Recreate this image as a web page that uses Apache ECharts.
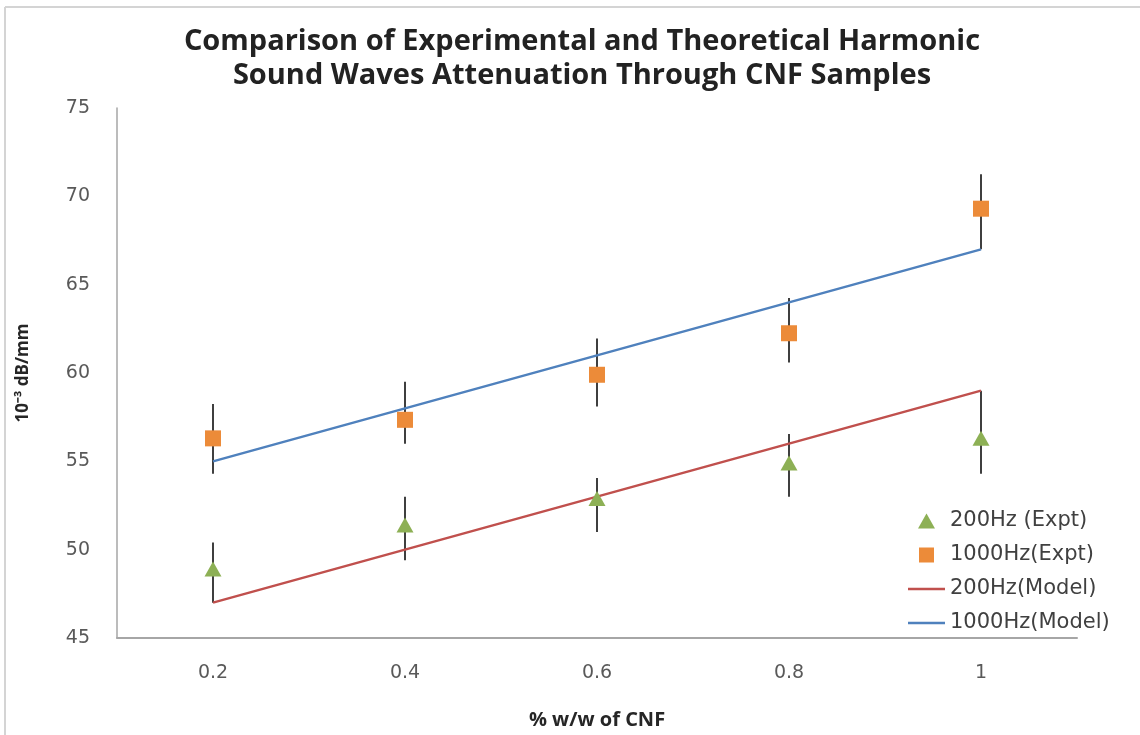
<!DOCTYPE html>
<html>
<head>
<meta charset="utf-8">
<title>CNF attenuation</title>
<script src="https://cdn.jsdelivr.net/npm/echarts@6/dist/echarts.min.js"></script>
<style>
  html, body { margin: 0; padding: 0; background: #ffffff; }
  #chart { width: 1140px; height: 735px; }
</style>
</head>
<body>
<div id="chart"></div>
<script>
// CNF loading (% w/w)
const categories = ['0.2', '0.4', '0.6', '0.8', '1'];

// Measured attenuation (10^-3 dB/mm) with error-bar limits
const expt200 = [48.9, 51.4, 52.9, 54.9, 56.3];
const expt200Low = [47.0, 49.4, 51.0, 53.0, 54.3];
const expt200High = [50.4, 53.0, 54.05, 56.55, 59.0];

const expt1000 = [56.3, 57.35, 59.9, 62.25, 69.3];
const expt1000Low = [54.3, 56.0, 58.1, 60.6, 67.0];
const expt1000High = [58.25, 59.5, 61.95, 64.25, 71.25];

// Model predictions
const model200 = [47, 50, 53, 56, 59];
const model1000 = [55, 58, 61, 64, 67];

// Y axis ticks
const yMin = 45, yMax = 75, yStep = 5;

const names = ['200Hz (Expt)', '1000Hz(Expt)', '200Hz(Model)', '1000Hz(Model)'];

const barRows = [];
categories.forEach((c, i) => {
  barRows.push([i, expt200Low[i], expt200High[i]]);
  barRows.push([i, expt1000Low[i], expt1000High[i]]);
});

// legend glyphs (aspect kept inside the icon box)
const triIcon = 'path://M0,15 L8.5,0 L17,15 Z';
const sqIcon = 'path://M0,0 L15,0 L15,15 L0,15 Z';
const lineIcon = 'path://M0,0 L37,0 L37,2.5 L0,2.5 Z';

const chart = echarts.init(document.getElementById('chart'), null, { renderer: 'canvas' });

const option = {
  backgroundColor: '#ffffff',
  animation: false,
  title: {
    text: 'Comparison of Experimental and Theoretical Harmonic\nSound Waves Attenuation Through CNF Samples',
    left: 577,
    textAlign: 'center',
    top: 20,
    textStyle: {
      fontFamily: 'Open Sans',
      fontWeight: 'bold',
      fontSize: 29,
      lineHeight: 34,
      color: '#222222'
    }
  },
  grid: { left: 117, right: 63, top: 108, bottom: 90, containLabel: false },
  legend: {
    orient: 'vertical',
    left: 903,
    top: 505,
    itemWidth: 37,
    itemHeight: 15,
    itemGap: 12,
    symbolKeepAspect: true,
    textStyle: { fontFamily: 'DejaVu Sans', fontSize: 21, lineHeight: 22, color: '#404040' },
    data: [
      { name: names[0], icon: triIcon },
      { name: names[1], icon: sqIcon },
      { name: names[2], icon: lineIcon },
      { name: names[3], icon: lineIcon }
    ]
  },
  xAxis: {
    type: 'category',
    data: categories,
    boundaryGap: true,
    name: '% w/w of CNF',
    nameLocation: 'middle',
    nameGap: 72,
    nameTextStyle: { fontFamily: 'Open Sans', fontWeight: 'bold', fontSize: 20, color: '#262626' },
    axisLine: { lineStyle: { color: '#a6a6a6', width: 2 } },
    axisTick: { show: false },
    axisLabel: { margin: 26, fontFamily: 'DejaVu Sans', fontSize: 19, color: '#595959' },
    splitLine: { show: false }
  },
  yAxis: {
    type: 'value',
    min: yMin,
    max: yMax,
    interval: yStep,
    name: '10⁻³ dB/mm',
    nameLocation: 'middle',
    nameGap: 85,
    nameRotate: 90,
    nameTextStyle: { fontFamily: 'Open Sans', fontWeight: 'bold', fontSize: 17, color: '#262626' },
    axisLine: { show: true, lineStyle: { color: '#a6a6a6', width: 1.5 } },
    axisTick: { show: false },
    axisLabel: { margin: 27, fontFamily: 'DejaVu Sans', fontSize: 19, color: '#595959' },
    splitLine: { show: false }
  },
  graphic: [
    { type: 'line', shape: { x1: 5, y1: 7, x2: 1140, y2: 7 }, style: { stroke: '#d4d4d4', lineWidth: 2 }, silent: true },
    { type: 'line', shape: { x1: 5, y1: 7, x2: 5, y2: 735 }, style: { stroke: '#d4d4d4', lineWidth: 2 }, silent: true }
  ],
  series: [
    {
      name: 'errorbars',
      type: 'custom',
      z: 1,
      silent: true,
      data: barRows,
      encode: { x: 0, y: [1, 2] },
      renderItem: function (params, api) {
        const x = api.value(0);
        const lo = api.coord([x, api.value(1)]);
        const hi = api.coord([x, api.value(2)]);
        return {
          type: 'line',
          shape: { x1: lo[0], y1: lo[1], x2: hi[0], y2: hi[1] },
          style: { stroke: '#3f3f3f', lineWidth: 2 }
        };
      }
    },
    {
      name: names[2],
      type: 'line',
      z: 2,
      data: model200,
      symbol: 'none',
      lineStyle: { color: '#c0504d', width: 2.5 },
      itemStyle: { color: '#c0504d' }
    },
    {
      name: names[3],
      type: 'line',
      z: 2,
      data: model1000,
      symbol: 'none',
      lineStyle: { color: '#4f81bd', width: 2.5 },
      itemStyle: { color: '#4f81bd' }
    },
    {
      name: names[0],
      type: 'scatter',
      z: 3,
      data: expt200,
      symbol: 'triangle',
      symbolSize: [17, 15],
      itemStyle: { color: '#8db055', opacity: 1 }
    },
    {
      name: names[1],
      type: 'scatter',
      z: 3,
      data: expt1000,
      symbol: 'rect',
      symbolSize: 16,
      itemStyle: { color: '#ec8b39', opacity: 1 }
    }
  ]
};

chart.setOption(option);
</script>
</body>
</html>
